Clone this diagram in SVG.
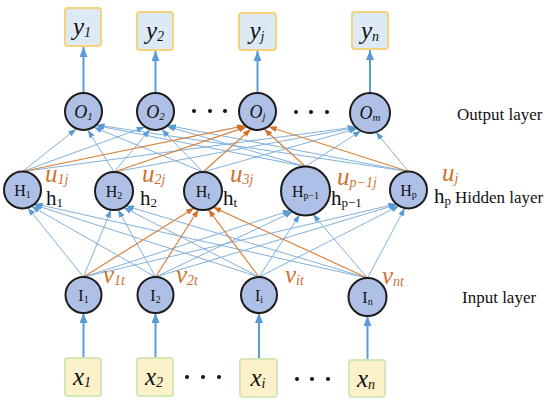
<svg xmlns="http://www.w3.org/2000/svg" width="550" height="409" viewBox="0 0 550 409">
<defs>
<style>
.mb{stroke:#82b1dc;stroke-width:1;fill:none;marker-end:url(#ab)}
.mo{stroke:#d9843f;stroke-width:1.2;fill:none;marker-end:url(#ao)}
.vb{stroke:#5b9bd5;stroke-width:2;fill:none;marker-end:url(#av)}
.nc{fill:#afc0e6;stroke:#1c1c1c;stroke-width:2}
.yb{fill:#dde9f5;stroke:#f3d47c;stroke-width:2}
.xb{fill:#fcf1c9;stroke:#d6e7b6;stroke-width:2}
.it{font-family:'Liberation Serif','DejaVu Serif',serif;font-style:italic;fill:#111}
.rm{font-family:'Liberation Serif','DejaVu Serif',serif;fill:#111}
.or{font-family:'Liberation Serif','DejaVu Serif',serif;font-style:italic;fill:#d0702c}
.dot{fill:#111}
</style>
<marker id="ab" viewBox="0 0 8 6" refX="8" refY="3" markerWidth="8" markerHeight="6" markerUnits="userSpaceOnUse" orient="auto"><path d="M0,0 L8,3 L0,6 z" fill="#5b9bd5"/></marker>
<marker id="ao" viewBox="0 0 8 6" refX="8" refY="3" markerWidth="8" markerHeight="6" markerUnits="userSpaceOnUse" orient="auto"><path d="M0,0 L8,3 L0,6 z" fill="#d0702c"/></marker>
<marker id="av" viewBox="0 0 10 8" refX="10" refY="4" markerWidth="10" markerHeight="8" markerUnits="userSpaceOnUse" orient="auto"><path d="M0,0 L10,4 L0,8 z" fill="#5b9bd5"/></marker>
</defs>
<rect width="550" height="409" fill="#fff"/>
<g id="connectors">
<line class="vb" x1="83.5" y1="93" x2="83.5" y2="47"/>
<line class="vb" x1="155.5" y1="93" x2="155.5" y2="51"/>
<line class="vb" x1="257.5" y1="93" x2="257.5" y2="51"/>
<line class="vb" x1="370" y1="93" x2="370" y2="50"/>
<line class="vb" x1="83.5" y1="358" x2="83.5" y2="313"/>
<line class="vb" x1="155.5" y1="358" x2="155.5" y2="313"/>
<line class="vb" x1="259" y1="359" x2="259" y2="313"/>
<line class="vb" x1="367.5" y1="360" x2="367.5" y2="316"/>
<line class="mb" x1="22.5" y1="171.5" x2="76.1" y2="129"/>
<line class="mb" x1="114" y1="172" x2="87.8" y2="130"/>
<line class="mb" x1="203" y1="172" x2="93.9" y2="127.3"/>
<line class="mb" x1="305.5" y1="166.5" x2="96.1" y2="125.6"/>
<line class="mb" x1="408.5" y1="171.5" x2="96.6" y2="125"/>
<line class="mb" x1="22.5" y1="171.5" x2="144.7" y2="127"/>
<line class="mb" x1="114" y1="172" x2="150" y2="129.6"/>
<line class="mb" x1="203" y1="172" x2="161.7" y2="129.4"/>
<line class="mb" x1="305.5" y1="166.5" x2="167" y2="126.4"/>
<line class="mb" x1="408.5" y1="171.5" x2="168.1" y2="125.5"/>
<line class="mb" x1="22.5" y1="171.5" x2="355.6" y2="126.9"/>
<line class="mb" x1="114" y1="172" x2="356.3" y2="127.5"/>
<line class="mb" x1="203" y1="172" x2="357.4" y2="128.5"/>
<line class="mb" x1="305.5" y1="166.5" x2="361" y2="130.8"/>
<line class="mb" x1="408.5" y1="171.5" x2="375.9" y2="132.1"/>
<line class="mb" x1="83.5" y1="277" x2="27.8" y2="207.7"/>
<line class="mb" x1="155.5" y1="277" x2="31.4" y2="206.2"/>
<line class="mb" x1="259" y1="277" x2="33.7" y2="204.7"/>
<line class="mb" x1="367.5" y1="278" x2="34.8" y2="203.8"/>
<line class="mb" x1="83.5" y1="277" x2="111" y2="209.8"/>
<line class="mb" x1="155.5" y1="277" x2="118" y2="209.6"/>
<line class="mb" x1="259" y1="277" x2="123.6" y2="207.4"/>
<line class="mb" x1="367.5" y1="278" x2="125.8" y2="205.9"/>
<line class="mb" x1="83.5" y1="277" x2="290.6" y2="210.5"/>
<line class="mb" x1="155.5" y1="277" x2="292.6" y2="211.8"/>
<line class="mb" x1="259" y1="277" x2="299.6" y2="214.8"/>
<line class="mb" x1="367.5" y1="278" x2="312.9" y2="214.3"/>
<line class="mb" x1="83.5" y1="277" x2="396.3" y2="203.9"/>
<line class="mb" x1="155.5" y1="277" x2="397" y2="204.5"/>
<line class="mb" x1="259" y1="277" x2="399" y2="205.9"/>
<line class="mb" x1="367.5" y1="278" x2="404.8" y2="208.1"/>
<line class="mo" x1="22.5" y1="171.5" x2="245" y2="125.7"/>
<line class="mo" x1="114" y1="172" x2="246.5" y2="126.9"/>
<line class="mo" x1="203" y1="172" x2="250.7" y2="129.2"/>
<line class="mo" x1="305.5" y1="166.5" x2="264.3" y2="129.2"/>
<line class="mo" x1="408.5" y1="171.5" x2="268.7" y2="126.7"/>
<line class="mo" x1="83.5" y1="277" x2="194.2" y2="207.9"/>
<line class="mo" x1="155.5" y1="277" x2="198.5" y2="209.5"/>
<line class="mo" x1="259" y1="277" x2="208.2" y2="209.3"/>
<line class="mo" x1="367.5" y1="278" x2="213.1" y2="207.1"/>
</g>
<g id="y1"><rect class="yb" x="65" y="8" width="36" height="38" rx="3"/><text class="it" x="82" y="35" font-size="25" text-anchor="middle">y<tspan font-size="14" dy="2">1</tspan></text></g>
<g id="y2"><rect class="yb" x="137" y="12" width="36" height="38" rx="3"/><text class="it" x="155" y="39" font-size="25" text-anchor="middle">y<tspan font-size="14" dy="2">2</tspan></text></g>
<g id="yj"><rect class="yb" x="239" y="13" width="37" height="37" rx="3"/><text class="it" x="257" y="39" font-size="25" text-anchor="middle">y<tspan font-size="14" dy="2">j</tspan></text></g>
<g id="yn"><rect class="yb" x="352" y="12" width="36" height="37" rx="3"/><text class="it" x="370" y="39" font-size="25" text-anchor="middle">y<tspan font-size="14" dy="2">n</tspan></text></g>
<g id="O1"><circle class="nc" cx="83.5" cy="111.5" r="18.5"/><text class="it" x="83.5" y="118" font-size="18" text-anchor="middle">O<tspan font-size="11" dy="2">1</tspan></text></g>
<g id="O2"><circle class="nc" cx="155.5" cy="111.5" r="18.5"/><text class="it" x="155.5" y="118" font-size="18" text-anchor="middle">O<tspan font-size="11" dy="2">2</tspan></text></g>
<g id="Oj"><circle class="nc" cx="257.5" cy="111.5" r="18.5"/><text class="it" x="257.5" y="118" font-size="18" text-anchor="middle">O<tspan font-size="11" dy="2">j</tspan></text></g>
<g id="Om"><circle class="nc" cx="370" cy="113" r="20"/><text class="it" x="370" y="119" font-size="18" text-anchor="middle">O<tspan font-size="11" dy="2">m</tspan></text></g>
<g id="dots-o"><circle class="dot" cx="194" cy="111" r="2"/><circle class="dot" cx="210" cy="111" r="2"/><circle class="dot" cx="225" cy="111" r="2"/><circle class="dot" cx="296" cy="112" r="2"/><circle class="dot" cx="311" cy="112" r="2"/><circle class="dot" cx="327" cy="112" r="2"/></g>
<g id="H1"><circle class="nc" cx="22.5" cy="190" r="18.5"/><text class="rm" x="22.5" y="196" font-size="16" text-anchor="middle">H<tspan font-size="10" dy="2">1</tspan></text></g>
<g id="H2"><circle class="nc" cx="114" cy="191" r="19"/><text class="rm" x="114" y="197" font-size="16" text-anchor="middle">H<tspan font-size="10" dy="2">2</tspan></text></g>
<g id="Ht"><circle class="nc" cx="203" cy="191" r="19"/><text class="rm" x="203" y="197" font-size="16" text-anchor="middle">H<tspan font-size="10" dy="2">t</tspan></text></g>
<g id="Hp-1"><circle class="nc" cx="305.5" cy="191" r="24.5"/><text class="rm" x="305.5" y="197" font-size="16" text-anchor="middle">H<tspan font-size="10" dy="2">p−1</tspan></text></g>
<g id="Hp"><circle class="nc" cx="408.5" cy="190" r="18.5"/><text class="rm" x="408.5" y="196" font-size="16" text-anchor="middle">H<tspan font-size="10" dy="2">p</tspan></text></g>
<g id="I1"><circle class="nc" cx="83.5" cy="295" r="18"/><text class="rm" x="83.5" y="301" font-size="16" text-anchor="middle">I<tspan font-size="10" dy="2">1</tspan></text></g>
<g id="I2"><circle class="nc" cx="155.5" cy="295" r="18"/><text class="rm" x="155.5" y="301" font-size="16" text-anchor="middle">I<tspan font-size="10" dy="2">2</tspan></text></g>
<g id="Ii"><circle class="nc" cx="259" cy="295" r="18"/><text class="rm" x="259" y="301" font-size="16" text-anchor="middle">I<tspan font-size="10" dy="2">i</tspan></text></g>
<g id="In"><circle class="nc" cx="367.5" cy="297" r="19"/><text class="rm" x="367.5" y="303" font-size="16" text-anchor="middle">I<tspan font-size="10" dy="2">n</tspan></text></g>
<g id="x1"><rect class="xb" x="65" y="358" width="36" height="38" rx="3"/><text class="it" x="82" y="385" font-size="25" text-anchor="middle">x<tspan font-size="14" dy="2">1</tspan></text></g>
<g id="x2"><rect class="xb" x="137" y="358" width="36" height="38" rx="3"/><text class="it" x="154" y="385" font-size="25" text-anchor="middle">x<tspan font-size="14" dy="2">2</tspan></text></g>
<g id="xi"><rect class="xb" x="240" y="359" width="37" height="38" rx="3"/><text class="it" x="258" y="386" font-size="25" text-anchor="middle">x<tspan font-size="14" dy="2">i</tspan></text></g>
<g id="xn"><rect class="xb" x="349" y="360" width="36" height="37" rx="3"/><text class="it" x="366" y="387" font-size="25" text-anchor="middle">x<tspan font-size="14" dy="2">n</tspan></text></g>
<g id="dots-x"><circle class="dot" cx="187" cy="377" r="2"/><circle class="dot" cx="203" cy="377" r="2"/><circle class="dot" cx="219" cy="377" r="2"/><circle class="dot" cx="297" cy="379" r="2"/><circle class="dot" cx="312" cy="379" r="2"/><circle class="dot" cx="328" cy="379" r="2"/></g>
<g id="labels">
<text class="or" x="45" y="182" font-size="25">u<tspan font-size="14" dy="2">1j</tspan></text>
<text class="or" x="142" y="182" font-size="25">u<tspan font-size="14" dy="2">2j</tspan></text>
<text class="or" x="230" y="182" font-size="25">u<tspan font-size="14" dy="2">3j</tspan></text>
<text class="or" x="337" y="185" font-size="25">u<tspan font-size="14" dy="2">p−1j</tspan></text>
<text class="or" x="442" y="181" font-size="25">u<tspan font-size="14" dy="2">j</tspan></text>
<text class="rm" x="46" y="205" font-size="21">h<tspan font-size="13" dy="2">1</tspan></text>
<text class="rm" x="140" y="205" font-size="21">h<tspan font-size="13" dy="2">2</tspan></text>
<text class="rm" x="223" y="205" font-size="21">h<tspan font-size="13" dy="2">t</tspan></text>
<text class="rm" x="331" y="205" font-size="21">h<tspan font-size="13" dy="2">p−1</tspan></text>
<text class="rm" x="434" y="203" font-size="21">h<tspan font-size="13" dy="2">p</tspan></text>
<text class="or" x="103" y="283" font-size="25">v<tspan font-size="14" dy="2">1t</tspan></text>
<text class="or" x="176" y="283" font-size="25">v<tspan font-size="14" dy="2">2t</tspan></text>
<text class="or" x="285" y="283" font-size="25">v<tspan font-size="14" dy="2">it</tspan></text>
<text class="or" x="382" y="284" font-size="25">v<tspan font-size="14" dy="2">nt</tspan></text>
<text class="rm" x="457" y="120" font-size="17">Output layer</text>
<text class="rm" x="455" y="203" font-size="17">Hidden layer</text>
<text class="rm" x="462" y="303" font-size="17">Input layer</text>
</g>
</svg>
